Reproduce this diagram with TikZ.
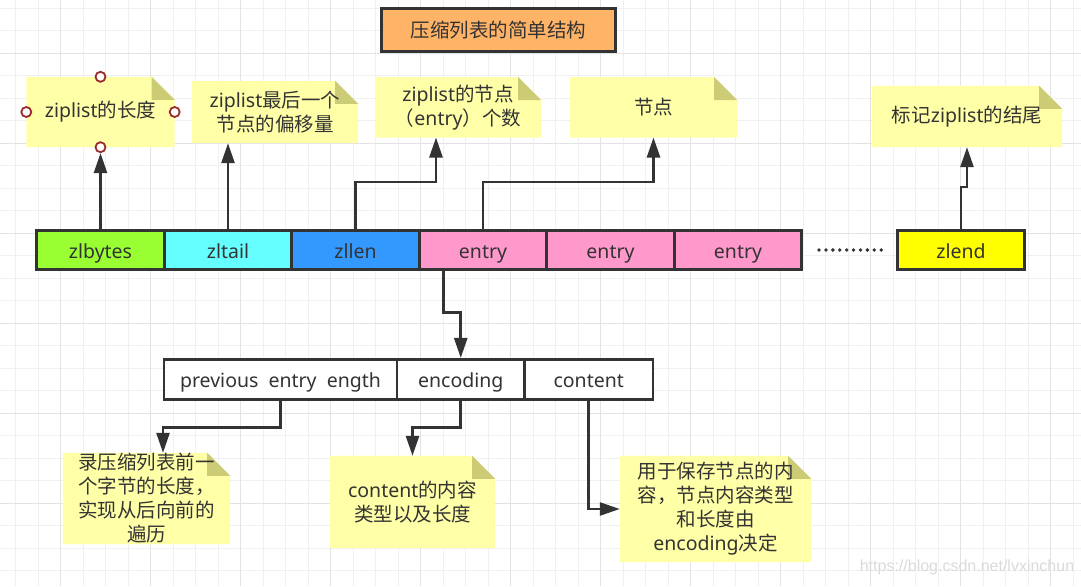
\documentclass[tikz,border=0pt]{standalone}
\usepackage{fontspec}
\setmainfont{Noto Sans}
\newfontfamily\cjk{Noto Sans CJK SC}
\newfontfamily\wmfont{Liberation Sans}
\usetikzlibrary{arrows.meta,backgrounds}
\definecolor{ink}{HTML}{333333}
\definecolor{titlefill}{HTML}{FFB366}
\definecolor{zlgreen}{HTML}{99FF33}
\definecolor{zlcyan}{HTML}{66FFFF}
\definecolor{zlblue}{HTML}{3399FF}
\definecolor{zlpink}{HTML}{FF99CC}
\definecolor{zlyellow}{HTML}{FFFF00}
\definecolor{notefill}{HTML}{FFFFA8}
\definecolor{foldfill}{HTML}{CCCC77}
\definecolor{handlered}{HTML}{9B2C2C}
\definecolor{gridminor}{HTML}{F0F0F0}
\definecolor{gridmajor}{HTML}{E3E3E3}
\definecolor{wmgray}{HTML}{DADADA}
\begin{document}
\begin{tikzpicture}[x=1pt, y=-1pt,
    cell/.style={draw=ink, line width=2.6pt, minimum width=127.5pt, minimum height=39.5pt, inner sep=0pt, text height=19pt, text depth=3pt, text=ink, font=\fontsize{19.5}{24}\selectfont},
    note/.style={inner sep=0pt, align=center, text=ink, font=\fontsize{19.5}{24}\selectfont},
    handle/.style={circle, draw=handlered, fill=white, line width=1.8pt, minimum size=10pt, inner sep=0pt},
    link/.style={draw=ink, line width=2.6pt, -{Triangle[length=20pt,width=13pt]}},
    dotline/.style={draw=ink, line width=3.8pt, line cap=round, dash pattern=on 0pt off 6.9pt}]
            \useasboundingbox (0,0) rectangle (1081,586);
            \node[draw=ink, line width=2.6pt, fill=titlefill, minimum width=234pt, minimum height=43pt, text=ink, font=\fontsize{19.5}{24}\selectfont] (title) at (498.3,30) {\cjk 压缩列表的简单结构};
            \node[cell, fill=zlgreen] (zlbytes) at (100.5,250) {zlbytes};
            \node[cell, fill=zlcyan] (zltail) at (228,250) {zltail};
            \node[cell, fill=zlblue] (zllen) at (355.5,250) {zllen};
            \node[cell, fill=zlpink] (e1) at (483,250) {entry};
            \node[cell, fill=zlpink] (e2) at (610.5,250) {entry};
            \node[cell, fill=zlpink] (e3) at (738,250) {entry};
            \node[cell, fill=zlyellow] (zlend) at (961,250) {zlend};
            \node[cell, fill=white, minimum width=233pt, minimum height=40.5pt] (prev) at (280.5,379.5) {previous~ entry~ ength};
            \node[cell, fill=white, minimum height=40.5pt] (enc) at (460.75,379.5) {encoding};
            \node[cell, fill=white, minimum width=128.5pt, minimum height=40.5pt] (cont) at (588.75,379.5) {content};
            \node[note, minimum width=148pt, minimum height=70pt] (n1) at (100.5,112) {ziplist{\cjk 的长度}};
            \node[note, minimum width=166pt, minimum height=62pt] (n2) at (275,112) {ziplist{\cjk 最后一个}\\{\cjk 节点的偏移量}};
            \node[note, minimum width=166pt, minimum height=60pt] (n3) at (458,107.3) {ziplist{\cjk 的节点}\\{\cjk （}entry{\cjk ）个数}};
            \node[note, minimum width=167pt, minimum height=60pt] (n4) at (653.5,107.3) {{\cjk 节点}};
            \node[note, minimum width=190pt, minimum height=61pt] (n5) at (967,116.5) {{\cjk 标记}ziplist{\cjk 的结尾}};
            \node[note, minimum width=167pt, minimum height=91pt] (n6) at (146.5,498.5) {{\cjk 录压缩列表前一}\\{\cjk 个字节的长度，}\\{\cjk 实现从后向前的}\\{\cjk 遍历}};
            \node[note, minimum width=165pt, minimum height=92pt] (n7) at (412.5,502) {content{\cjk 的内容}\\{\cjk 类型以及长度}};
            \node[note, minimum width=191pt, minimum height=106pt] (n8) at (715.5,509) {{\cjk 用于保存节点的内}\\{\cjk 容，节点内容类型}\\{\cjk 和长度由}\\encoding{\cjk 决定}};
            \node[handle] (h1n) at (n1.north) {};
            \node[handle] (h1w) at (n1.west) {};
            \node[handle] (h1e) at (n1.east) {};
            \node[handle] (h1s) at (n1.south) {};
            \node[text=wmgray, font=\wmfont\fontsize{16}{18}\selectfont] (wm) at (967,567) {https://blog.csdn.net/lvxinchun};
            \draw[link] (zlbytes.north) -- (h1s.south);
            \draw[link] (zltail.north) -- (zltail.north |- n2.south);
            \draw[link] (zllen.north) -- ++(0,-47) -| ([xshift=-22pt]n3.south);
            \draw[link] (e1.north) -- ++(0,-47) -| (n4.south);
            \draw[link] (zlend.north) -- ++(0,-42) -| (n5.south);
            \draw[link] ([xshift=-39.5pt]e1.south) -- ++(0,41.5) -| (enc.north);
            \draw[link] (prev.south) -- ++(0,26.5) -| ([xshift=16.5pt]n6.north);
            \draw[link] (enc.south) -- ++(0,26.5) -| (n7.north);
            \draw[link] (cont.south) |- (n8.west);
            \draw[dotline] ([xshift=16pt]e3.east) -- ([xshift=-10pt]zlend.west);
            \begin{scope}[on background layer]
                \fill[white] (0,0) rectangle (1081,586);
                \foreach \gx in {0,...,47} \draw[gridminor, line width=1pt] (15.5+22.5*\gx,0) -- (15.5+22.5*\gx,586);
                \foreach \gy in {0,...,25} \draw[gridminor, line width=1pt] (0,8.3+22.5*\gy) -- (1081,8.3+22.5*\gy);
                \foreach \gx in {0,...,11} \draw[gridmajor, line width=1pt] (60.5+90*\gx,0) -- (60.5+90*\gx,586);
                \foreach \gy in {0,...,5} \draw[gridmajor, line width=1pt] (0,53.3+90*\gy) -- (1081,53.3+90*\gy);
                \foreach \nb in {n1,n2,n3,n4,n5,n6,n7,n8} {
                    \fill[notefill] (\nb.south west) -- (\nb.north west) -- ([xshift=-23pt]\nb.north east) -- ([yshift=-23pt]\nb.north east) -- (\nb.south east) -- cycle;
                    \fill[foldfill] ([xshift=-23pt]\nb.north east) -- ([shift={(-23pt,-23pt)}]\nb.north east) -- ([yshift=-23pt]\nb.north east) -- cycle;
                }
            \end{scope}
        \end{tikzpicture}
\end{document}
